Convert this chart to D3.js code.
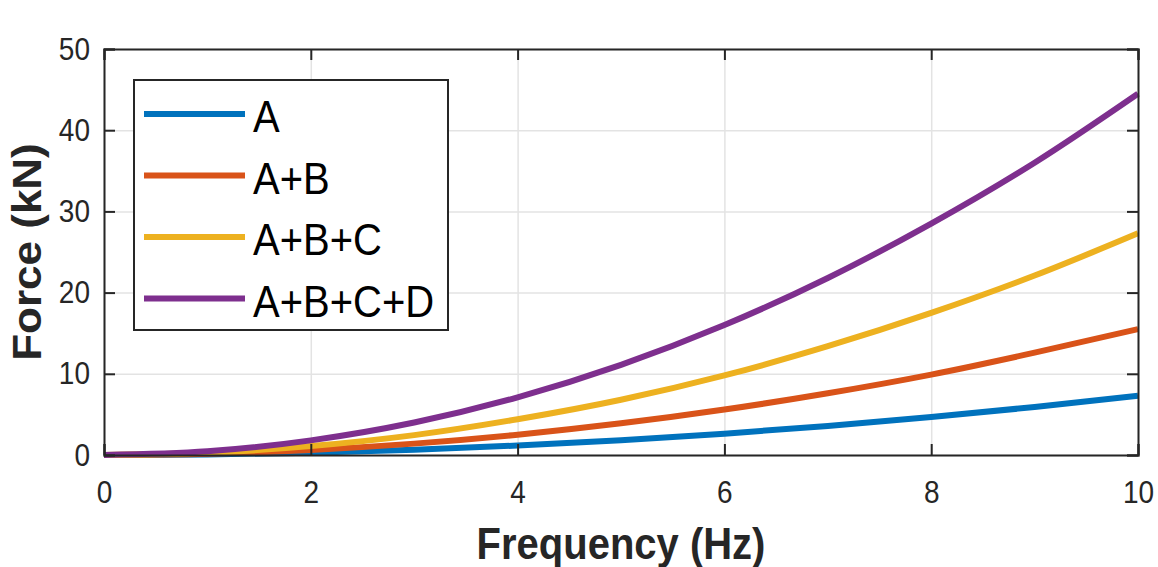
<!DOCTYPE html>
<html>
<head>
<meta charset="utf-8">
<script src="https://cdn.jsdelivr.net/npm/d3@7"></script>
<style>
  body { margin: 0; background: #fff; }
  svg { display: block; font-family: "Liberation Sans", Arial, sans-serif; }
</style>
</head>
<body>
<div id="chart"></div>
<script>
// values, one per integer frequency
var freq = [0, 1, 2, 3, 4, 5, 6, 7, 8, 9, 10];
var forceA = [0, 0.07, 0.29, 0.66, 1.17, 1.83, 2.63, 3.58, 4.67, 5.91, 7.3];
var forceAB = [0, 0.15, 0.62, 1.4, 2.5, 3.9, 5.6, 7.6, 9.9, 12.6, 15.5];
var forceABC = [0, 0.27, 1.1, 2.45, 4.4, 6.8, 9.8, 13.4, 17.5, 22.1, 27.3];
var forceABCD = [0, 0.45, 1.8, 4.0, 7.1, 11.1, 16.0, 21.8, 28.5, 36.0, 44.5];
var seriesNames = ["A", "A+B", "A+B+C", "A+B+C+D"];
var seriesColors = ["#0072BD", "#D95319", "#EDB120", "#7E2F8E"];
var xTicks = [0, 2, 4, 6, 8, 10];
var yTicks = [0, 10, 20, 30, 40, 50];

function drawChart(selector) {
    var width = 1158, height = 567;
    var margin = {left: 104, top: 49, right: 20, bottom: 112};
    var w = width - margin.left - margin.right,
        h = height - margin.top - margin.bottom;
    var axisColor = "#262626";

    var svg = d3.select(selector)
        .append("svg")
        .attr("width", width)
        .attr("height", height);

    var x = d3.scaleLinear().domain([0, 10]).range([0, w]);
    var y = d3.scaleLinear().domain([0, 50]).range([h, 0]);

    var g = svg.append("g")
        .attr("transform", "translate(" + margin.left + "," + margin.top + ")");

    // grid
    g.append("g")
        .attr("class", "grid")
        .attr("transform", "translate(0," + h + ")")
        .call(d3.axisBottom(x).tickValues(xTicks).tickSize(-h).tickFormat(""))
        .call(function(s) { s.select(".domain").remove(); })
        .selectAll("line")
        .attr("stroke", "#e3e3e3")
        .attr("stroke-width", 1.5);

    g.append("g")
        .attr("class", "grid")
        .call(d3.axisLeft(y).tickValues(yTicks).tickSize(-w).tickFormat(""))
        .call(function(s) { s.select(".domain").remove(); })
        .selectAll("line")
        .attr("stroke", "#e3e3e3")
        .attr("stroke-width", 1.5);

    // lines
    var allSeries = [forceA, forceAB, forceABC, forceABCD];
    var line = d3.line()
        .x(function(d, i) { return x(freq[i]); })
        .y(function(d) { return y(d); })
        .curve(d3.curveMonotoneX);

    g.selectAll(".series")
        .data(allSeries)
        .enter().append("path")
        .attr("class", "series")
        .attr("fill", "none")
        .attr("stroke", function(d, i) { return seriesColors[i]; })
        .attr("stroke-width", 6)
        .attr("d", line);

    // axes, ticks point inward
    var xAxis = g.append("g")
        .attr("transform", "translate(0," + h + ")")
        .call(d3.axisBottom(x).tickValues(xTicks).tickSize(-11));
    xAxis.selectAll("text")
        .attr("y", 0).attr("dy", 0)
        .attr("transform", "translate(0,48) scale(1,1.1)")
        .attr("font-size", 28)
        .attr("fill", axisColor);

    var yAxis = g.append("g")
        .call(d3.axisLeft(y).tickValues(yTicks).tickSize(-11));
    yAxis.selectAll("text")
        .attr("x", 0).attr("dy", 0)
        .attr("transform", "translate(-14,10) scale(1,1.1)")
        .attr("font-size", 28)
        .attr("fill", axisColor);

    g.append("g")
        .call(d3.axisTop(x).tickValues(xTicks).tickSize(-11).tickFormat(""));
    g.append("g")
        .attr("transform", "translate(" + w + ",0)")
        .call(d3.axisRight(y).tickValues(yTicks).tickSize(-11).tickFormat(""));

    g.selectAll(".domain, .tick line")
        .filter(function() { return !this.parentNode.parentNode.classList.contains("grid") && !this.parentNode.classList.contains("grid"); })
        .attr("stroke", axisColor)
        .attr("stroke-width", 2);

    // axis titles
    svg.append("text")
        .attr("transform", "translate(" + (margin.left + w / 2) + ",559) scale(1,1.1)")
        .attr("text-anchor", "middle")
        .attr("font-size", 40)
        .attr("font-weight", "bold")
        .attr("fill", axisColor)
        .text("Frequency (Hz)");

    svg.append("text")
        .attr("transform", "translate(41," + (margin.top + h / 2) + ") rotate(-90) scale(1.1,1)")
        .attr("text-anchor", "middle")
        .attr("font-size", 40)
        .attr("font-weight", "bold")
        .attr("fill", axisColor)
        .text("Force (kN)");

    // legend
    var legend = svg.append("g").attr("class", "legend");
    legend.append("rect")
        .attr("x", 134).attr("y", 80)
        .attr("width", 314).attr("height", 250)
        .attr("fill", "#fff")
        .attr("stroke", axisColor)
        .attr("stroke-width", 2);

    var rows = legend.selectAll(".row")
        .data(seriesNames)
        .enter().append("g")
        .attr("class", "row")
        .attr("transform", function(d, i) { return "translate(0," + (114 + i * 61.5) + ")"; });

    rows.append("line")
        .attr("x1", 144).attr("x2", 245)
        .attr("stroke", function(d, i) { return seriesColors[i]; })
        .attr("stroke-width", 6);

    rows.append("text")
        .attr("transform", "translate(253,18) scale(1,1.1)")
        .attr("font-size", 40)
        .attr("fill", "#000")
        .text(function(d) { return d; });
}

drawChart("#chart");
</script>
</body>
</html>
